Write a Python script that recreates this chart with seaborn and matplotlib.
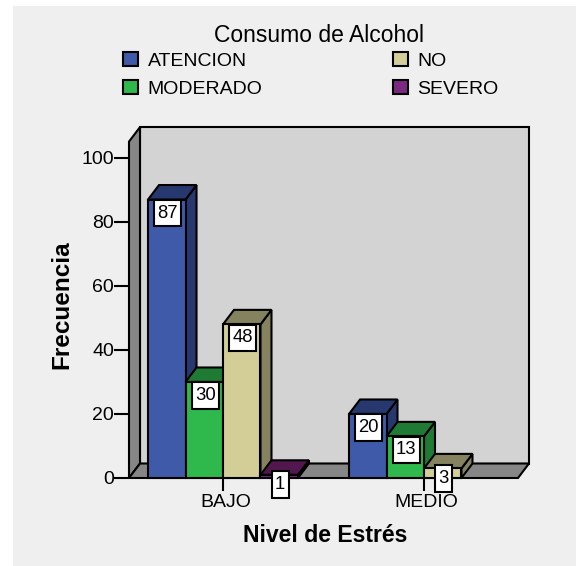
import pandas as pd
import matplotlib
matplotlib.use('Agg')
import matplotlib.pyplot as plt
from matplotlib.patches import Patch, Polygon, Rectangle
from matplotlib.transforms import ScaledTranslation
import seaborn as sns

# Values
niveles = ['BAJO', 'BAJO', 'BAJO', 'BAJO', 'MEDIO', 'MEDIO', 'MEDIO']
consumos = ['ATENCION', 'MODERADO', 'NO', 'SEVERO', 'ATENCION', 'MODERADO', 'NO']
frecuencias = [87, 30, 48, 1, 20, 13, 3]
orden = ['ATENCION', 'MODERADO', 'NO', 'SEVERO']
colores = ['#3E5AA8', '#2FB84C', '#D3CE98', '#7B2A80']
oscuros = ['#27386F', '#1F7A33', '#85825F', '#52174F']

sns.set_theme(style='white')
plt.rcParams['font.family'] = ['Liberation Sans', 'DejaVu Sans']

W, H = 576, 566
PX = 1 / 100
LW = 1.5
DX_PX, DY_PX = 11, 14.5

df = pd.DataFrame({'nivel': niveles, 'consumo': consumos, 'frecuencia': frecuencias})

fig = plt.figure(figsize=(W * PX, H * PX), dpi=100, facecolor='white')
# grey panel runs off the right and bottom edges
fig.add_artist(Rectangle((13 / W, 0), (W - 13) / W, (H - 6) / H, transform=fig.transFigure,
                         facecolor='#EFEFEF', edgecolor='none', zorder=-5))
ax = fig.add_axes([129 / W, 1 - 478 / H, 389 / W, 336.4 / H])
ax.patch.set_visible(False)

sns.barplot(data=df, x='nivel', y='frecuencia', hue='consumo', hue_order=orden, palette=colores,
            saturation=1, width=0.746, gap=0, edgecolor='black', linewidth=LW, legend=False, ax=ax, zorder=5)

ax.set_xlim(-0.4677, 1.4677)
ax.set_ylim(0, 105.1)

x0, x1 = ax.get_xlim()
y0, y1 = ax.get_ylim()
dx = DX_PX * (x1 - x0) / 389
dy = DY_PX * (y1 - y0) / 336.4


def poli(puntos, color, z):
    ax.add_patch(Polygon(puntos, closed=True, facecolor=color, edgecolor='black', linewidth=LW,
                         joinstyle='miter', clip_on=False, zorder=z))


# Walls and floor
poli([(x0 + dx, y0 + dy), (x1 + dx, y0 + dy), (x1 + dx, y1 + dy), (x0 + dx, y1 + dy)], '#D3D3D3', 1)
poli([(x0, y0), (x0, y1), (x0 + dx, y1 + dy), (x0 + dx, y0 + dy)], '#868686', 1.1)
poli([(x0, y0), (x0 + dx, y0 + dy), (x1 + dx, y0 + dy), (x1, y0)], '#868686', 1.1)

# 3D sides of the bars, left ones first so the next bar covers them
barras = []
for i, cont in enumerate(ax.containers):
    for b in cont:
        barras.append((b, i))
barras.sort(key=lambda t: t[0].get_x())

for n, (b, i) in enumerate(barras):
    z = 5 + n
    b.set_zorder(z + 0.2)
    b.set_clip_on(False)
    l, r, t = b.get_x(), b.get_x() + b.get_width(), b.get_height()
    poli([(r, 0), (r, t), (r + dx, t + dy), (r + dx, dy)], oscuros[i], z)
    poli([(l, t), (r, t), (r + dx, t + dy), (l + dx, t + dy)], oscuros[i], z)

    # small bars get the box hanging below the axis
    off = -10 if t < 10 else -13.5
    ax.annotate(str(int(t)), xy=((l + r) / 2, t), xytext=(1 * 0.72, off * 0.72), textcoords='offset points',
                ha='center', va='center', fontsize=13.3, color='black', zorder=30, annotation_clip=False,
                bbox=dict(boxstyle='square,pad=0.18', mutation_aspect=1.45, facecolor='white',
                          edgecolor='black', linewidth=LW))

ax.set_yticks([0, 20, 40, 60, 80, 100])
ax.tick_params(axis='y', length=10.8, width=LW, color='black', left=True, pad=0, labelsize=14, labelcolor='black')
ax.tick_params(axis='x', length=9.5, width=LW, color='black', bottom=True, pad=2, labelsize=14, labelcolor='black')
sns.despine(ax=ax, left=True, bottom=True)

for lab in ax.get_xticklabels():
    lab.set_transform(lab.get_transform() + ScaledTranslation(2.5 / 100, 0, fig.dpi_scale_trans))

ax.set_xlabel('')
ax.set_ylabel('')
fig.text(61.5 / W, 1 - 304.5 / H, 'Frecuencia', rotation=90, ha='center', va='center', fontsize=17.5,
         fontweight='bold', color='black')
fig.text(325 / W, 1 - 536 / H, 'Nivel de Estrés', ha='center', va='center', fontsize=16.6,
         fontweight='bold', color='black')
fig.text(319 / W, 1 - 35 / H, 'Consumo de Alcohol', ha='center', va='center', fontsize=16.5, color='black')

handles = [Patch(facecolor=c, edgecolor='black', linewidth=LW, label=o) for c, o in zip(colores, orden)]
leg = fig.legend(handles=handles, ncol=2, loc='upper left',
                 bbox_to_anchor=(123 / W, 1 - 52 / H), frameon=False, fontsize=14,
                 handlelength=0.77, handleheight=0.72, handletextpad=0.5, columnspacing=6.7,
                 labelspacing=0.55, borderpad=0, borderaxespad=0, labelcolor='black')

fig.savefig('out.png', dpi=100)
